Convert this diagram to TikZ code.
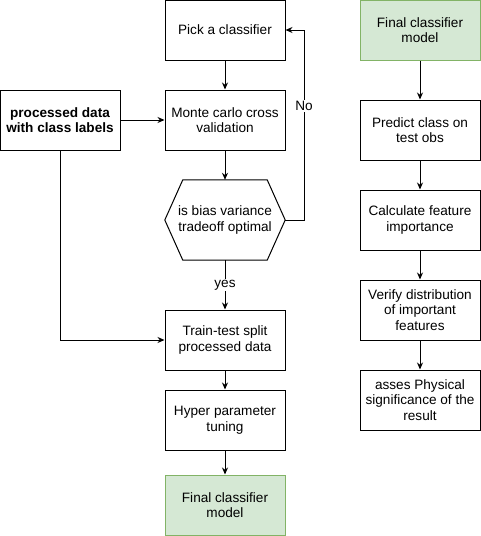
\documentclass[tikz,border=0pt]{standalone}
\usepackage{fontspec}
\setmainfont{Liberation Sans}
\usetikzlibrary{positioning,arrows.meta}
\definecolor{finalfill}{HTML}{D5E8D4}
\definecolor{finaldraw}{HTML}{82B366}
\tikzstyle{every node}=[font=\fontsize{13.6}{15.5}\selectfont]
\tikzstyle{block}=[draw,line width=1pt,minimum width=120pt,minimum height=60pt,align=center,inner sep=2pt]
\tikzstyle{finalblock}=[block,draw=finaldraw,fill=finalfill]
\tikzstyle{hexspace}=[minimum width=120pt,minimum height=80pt,align=center,inner sep=0pt]
\tikzstyle{link}=[line width=1pt,->]

\begin{document}
\begin{tikzpicture}[x=1pt,y=-1pt,node distance=90pt,>={Stealth[length=7pt,width=6pt]}]
\useasboundingbox (0,0) rectangle (481,536);
% left column
\node[block] (pick) at (225,30) {Pick a classifier};
\node[block] (monte) [below of=pick] {Monte carlo cross\\validation};
\node[hexspace] (tradeoff) [below of=monte,node distance=100pt] {is bias variance\\tradeoff optimal};
\draw[line width=1pt] (tradeoff.west) -- ([xshift=18pt]tradeoff.north west) -- ([xshift=-18pt]tradeoff.north east)
  -- (tradeoff.east) -- ([xshift=-18pt]tradeoff.south east) -- ([xshift=18pt]tradeoff.south west) -- cycle;
\node[block] (split) [below of=tradeoff,node distance=120pt] {Train-test split\\processed data};
\node[block] (tuning) [below of=split,node distance=80pt] {Hyper parameter\\tuning};
\node[finalblock] (finalleft) [below of=tuning,node distance=85pt] {Final classifier\\model};
\node[block,font=\fontsize{13.6}{15.5}\selectfont\bfseries] (data) [left of=monte,node distance=165pt] {processed data\\with class labels};
\coordinate (bend) at (304,30);
% right column
\node[finalblock] (finalright) at (420,30) {Final classifier\\model};
\node[block] (predict) [below of=finalright,node distance=100pt] {Predict class on\\test obs};
\node[block] (importance) [below of=predict] {Calculate feature\\importance};
\node[block] (verify) [below of=importance] {Verify distribution\\of important\\features};
\node[block] (physical) [below of=verify] {asses Physical\\significance of the\\result};

\draw[link] (pick) -- (monte);
\draw[link] (monte) -- (tradeoff);
\draw[link] (tradeoff) -- node[fill=white,inner sep=1pt] {yes} (split);
\draw[link] (split) -- (tuning);
\draw[link] (tuning) -- (finalleft);
\draw[link] (data) -- (monte);
\draw[link] (data.south) |- (split.west);
\draw[link] (tradeoff.east) -| node[pos=0.8,fill=white,inner sep=1pt] {No} (bend) -- (pick.east);
\draw[link] (finalright) -- (predict);
\draw[link] (predict) -- (importance);
\draw[link] (importance) -- (verify);
\draw[link] (verify) -- (physical);
\end{tikzpicture}
\end{document}
